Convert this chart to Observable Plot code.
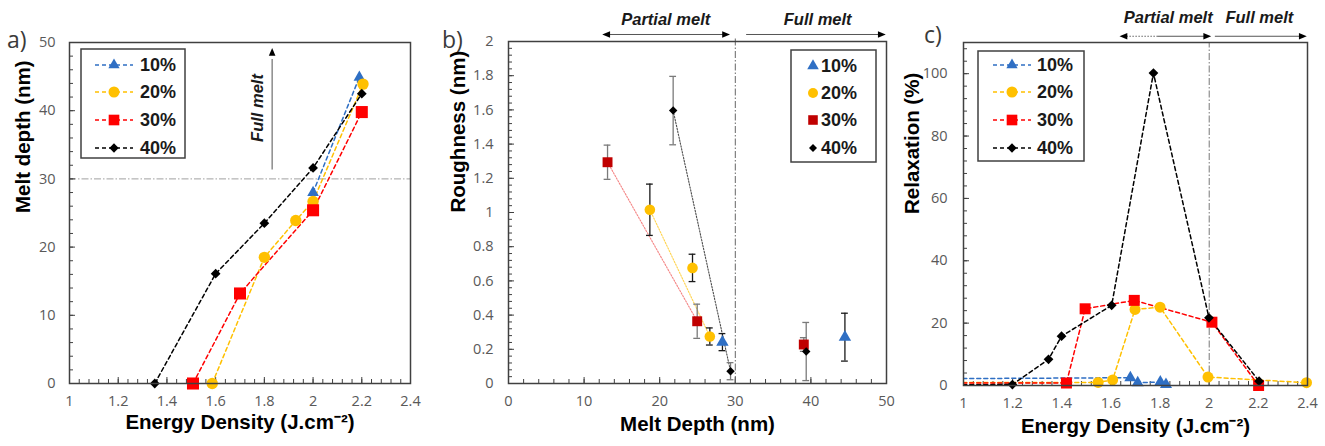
<!DOCTYPE html>
<html><head><meta charset="utf-8">
<script src="https://cdn.jsdelivr.net/npm/d3@7"></script>
<script src="https://cdn.jsdelivr.net/npm/@observablehq/plot@0.6"></script>
<style>
body{margin:0;background:#fff;}
#wrap{position:relative;width:1325px;height:446px;overflow:hidden;background:#fff;}
#wrap svg{position:absolute;top:0;overflow:visible;}
.tag{position:absolute;font-family:"Open Sans",sans-serif;font-size:23px;color:#3a3a3a;line-height:1;}
</style></head><body><div id="wrap"></div><script>
// ---------------- data ----------------
const seriesNames = ["10%", "20%", "30%", "40%"];

// a) Melt depth vs energy density
const aE10 = [2.0, 2.19];                      const aD10 = [28.0, 44.9];
const aE20 = [1.586, 1.8, 1.929, 2.0, 2.205];  const aD20 = [0, 18.5, 23.9, 26.7, 43.9];
const aE30 = [1.507, 1.7, 2.0, 2.2];           const aD30 = [0, 13.2, 25.4, 39.8];
const aE40 = [1.35, 1.6, 1.8, 2.0, 2.2];       const aD40 = [0, 16.1, 23.5, 31.6, 42.5];
const aXTicks = [1, 1.2, 1.4, 1.6, 1.8, 2, 2.2, 2.4];
const aYTicks = [0, 10, 20, 30, 40, 50];

// b) Roughness vs melt depth (with error bars)
const bDepth10 = [28.3, 44.5];          const bRough10 = [0.242, 0.271];        const bErr10 = [0.05, 0.14];
const bDepth20 = [18.7, 24.34, 26.63];  const bRough20 = [1.016, 0.676, 0.275]; const bErr20 = [0.15, 0.08, 0.05];
const bDepth30 = [13.1, 24.96, 39.06];  const bRough30 = [1.294, 0.364, 0.228]; const bErr30 = [0.1, 0.1, 0.04];
const bDepth40 = [21.78, 29.37, 39.38]; const bRough40 = [1.596, 0.072, 0.187]; const bErr40 = [0.2, 0.05, 0.17];
// dotted trend segments: indices of the points that are joined
const bTrend20 = [0, 2]; const bTrend30 = [0, 1]; const bTrend40 = [0, 1];
const bXTicks = [0, 10, 20, 30, 40, 50];
const bYTicks = [0, 0.2, 0.4, 0.6, 0.8, 1, 1.2, 1.4, 1.6, 1.8, 2];

// c) Relaxation vs energy density (first point of each series lies left of the axis)
const cE10 = [0, 1.679, 1.709, 1.801, 1.824];                    const cR10 = [1.8, 2.5, 0.9, 1.1, 0.3];
const cE20 = [0, 1.548, 1.607, 1.698, 1.8, 1.995, 2.396];       const cR20 = [1.0, 1.0, 1.8, 24.4, 25.1, 2.7, 0.9];
const cE30 = [0, 1.419, 1.495, 1.695, 2.011, 2.201];            const cR30 = [0.7, 0.8, 24.6, 27.3, 20.3, 0];
const cE40 = [0, 1.199, 1.346, 1.399, 1.603, 1.773, 1.999, 2.203]; const cR40 = [0, 0.3, 8.4, 15.8, 25.7, 100.2, 21.7, 1.4];
const cXTicks = [1, 1.2, 1.4, 1.6, 1.8, 2, 2.2, 2.4];
const cYTicks = [0, 20, 40, 60, 80, 100];

// ---------------- styling ----------------
const colA = ["#2F6FC4", "#FFC000", "#FF0000", "#000000"];
const colB = ["#2F6FC4", "#FFC000", "#C00000", "#000000"];
const errCol = ["#1a1a1a", "#1a1a1a", "#7a7a7a", "#7a7a7a"];
const syms = ["triangle", "circle", "square", "diamond2"];
const d3syms = [d3.symbolTriangle, d3.symbolCircle, d3.symbolSquare, d3.symbolDiamond2];
const rA = [4.3, 5.7, 6.8, 4.4];
const rB = [4.6, 5.3, 5.6, 3.8];
const rC = [4.5, 5.5, 6.2, 4.4];
const tickFont = "'Open Sans', sans-serif";
const titleFont = "'Liberation Sans', Arial, sans-serif";
const fmt = d => `${d}`;

const headRight = {draw(ctx, size){ const r = Math.sqrt(size/Math.PI); ctx.moveTo(0,0); ctx.lineTo(-2.6*r,-1.1*r); ctx.lineTo(-2.6*r,1.1*r); ctx.closePath(); }};
const headLeft  = {draw(ctx, size){ const r = Math.sqrt(size/Math.PI); ctx.moveTo(0,0); ctx.lineTo(2.6*r,-1.1*r); ctx.lineTo(2.6*r,1.1*r); ctx.closePath(); }};
const headUp    = {draw(ctx, size){ const r = Math.sqrt(size/Math.PI); ctx.moveTo(0,0); ctx.lineTo(-1.1*r,2.6*r); ctx.lineTo(1.1*r,2.6*r); ctx.closePath(); }};

function mkRows(series, xs, ys, errs) {
  return xs.map((x, i) => ({series, x, y: ys[i], err: errs ? errs[i] : 0}));
}
function tickMarks(xMinor, xMajor, yMinor, yMajor, innerW, innerH) {
  return [
    Plot.tickX(xMinor, {x: d => d, insetTop: innerH - 4, stroke: "#404040", strokeWidth: 1}),
    Plot.tickX(xMajor, {x: d => d, insetTop: innerH - 6, stroke: "#404040", strokeWidth: 1}),
    Plot.tickY(yMinor, {y: d => d, insetRight: innerW - 4, stroke: "#404040", strokeWidth: 1}),
    Plot.tickY(yMajor, {y: d => d, insetRight: innerW - 6, stroke: "#404040", strokeWidth: 1})
  ];
}
function axes(xT, yT, yPad) {
  return [
    Plot.axisX(xT, {tickSize: 0, tickPadding: 12, tickFormat: fmt, fontSize: 14.5, fontFamily: tickFont, fill: "#595959", label: null}),
    Plot.axisY(yT, {tickSize: 0, tickPadding: yPad, tickFormat: fmt, fontSize: 14.5, fontFamily: tickFont, fill: "#595959", label: null})
  ];
}
function titles(xTitle, yTitle, dyX, dxY) {
  return [
    Plot.text([xTitle], {text: d => d, frameAnchor: "bottom", dy: dyX, fontSize: 20.5, fontWeight: "bold", fontFamily: titleFont, fill: "#000"}),
    Plot.text([yTitle], {text: d => d, frameAnchor: "left", dx: dxY, rotate: -90, fontSize: 20.5, fontWeight: "bold", fontFamily: titleFont, fill: "#000"})
  ];
}
function addLegend(svg, box, rowY, o) {
  const g = d3.select(svg).append("g");
  g.append("rect").attr("x", box[0]).attr("y", box[1]).attr("width", box[2] - box[0]).attr("height", box[3] - box[1])
    .attr("fill", "white").attr("stroke", "#404040").attr("stroke-width", 1.5);
  seriesNames.forEach((name, i) => {
    const y = rowY[i];
    if (o.lineX) g.append("line").attr("x1", o.lineX[0]).attr("x2", o.lineX[1]).attr("y1", y).attr("y2", y)
      .attr("stroke", o.colors[i]).attr("stroke-width", 1.5).attr("stroke-dasharray", "4,3");
    g.append("path").attr("transform", `translate(${o.markerX},${y})`)
      .attr("d", d3.symbol(d3syms[i], Math.PI * o.r[i] * o.r[i])()).attr("fill", o.colors[i]);
    g.append("text").attr("x", o.textX).attr("y", y).attr("dy", "0.36em").text(name)
      .attr("text-anchor", "start")
      .attr("font-family", titleFont).attr("font-weight", "bold").attr("font-size", 18).attr("fill", "#1a1a1a");
  });
}

const wrap = document.getElementById("wrap");
const italicBold = {fontStyle: "italic", fontWeight: "bold", fontSize: 16.5, fontFamily: titleFont, fill: "#1a1a1a"};

// ---------------- panel a ----------------
{
  const W = 430, H = 446, mL = 69, mR = 20, mT = 42, mB = 63;
  const iw = W - mL - mR, ih = H - mT - mB;
  const sets = [mkRows("10%", aE10, aD10), mkRows("20%", aE20, aD20), mkRows("30%", aE30, aD30), mkRows("40%", aE40, aD40)];
  const marks = [
    Plot.ruleY([30], {x1: 1, x2: 2.4, stroke: "#a0a0a0", strokeWidth: 1, strokeDasharray: "7,2,1.5,2"}),
    ...tickMarks(d3.range(1, 2.401, 0.04), aXTicks, d3.range(0, 50.01, 2), aYTicks, iw, ih),
    Plot.ruleX([1.832], {y1: 31.3, y2: 47.5, stroke: "#7a7a7a", strokeWidth: 1.3}),
    Plot.dot([0], {x: 1.832, y: 49.2, symbol: headUp, r: 3, fill: "#000"}),
    Plot.text(["Full melt"], {text: d => d, x: 1.772, y: 40.4, rotate: -90, ...italicBold})
  ];
  sets.forEach((rows, i) => {
    marks.push(Plot.line(rows, {x: "x", y: "y", stroke: colA[i], strokeWidth: 1.5, strokeDasharray: "4,3"}));
  });
  sets.forEach((rows, i) => {
    marks.push(Plot.dot(rows, {x: "x", y: "y", symbol: syms[i], r: rA[i], fill: colA[i]}));
  });
  marks.push(Plot.frame({stroke: "#404040", strokeWidth: 1.5}), ...axes(aXTicks, aYTicks, 14),
    ...titles("Energy Density (J.cm\u207B\u00B2)", "Melt depth (nm)", 45, -46));
  const svg = Plot.plot({width: W, height: H, marginLeft: mL, marginRight: mR, marginTop: mT, marginBottom: mB,
    x: {domain: [1, 2.4]}, y: {domain: [0, 50]},
    style: {fontFamily: tickFont, fontSize: "14px", color: "#595959", background: "transparent", overflow: "visible"}, marks});
  svg.style.left = "0px";
  wrap.appendChild(svg);
  addLegend(svg, [81, 49, 185, 158], [65, 92, 120, 148], {lineX: [95, 133], markerX: 114, textX: 140, colors: colA, r: [4.2, 5.5, 6.0, 4.2]});
}

// ---------------- panel b ----------------
{
  const W = 465, H = 446, mL = 78, mR = 9, mT = 41, mB = 63, left = 430;
  const iw = W - mL - mR, ih = H - mT - mB;
  const sets = [mkRows("10%", bDepth10, bRough10, bErr10), mkRows("20%", bDepth20, bRough20, bErr20),
                mkRows("30%", bDepth30, bRough30, bErr30), mkRows("40%", bDepth40, bRough40, bErr40)];
  const trends = [null, bTrend20, bTrend30, bTrend40];
  const marks = [
    ...tickMarks(d3.range(0, 50.01, 2), bXTicks, d3.range(0, 2.001, 0.04), bYTicks, iw, ih),
    Plot.ruleX([30], {y1: 0, y2: 2.02, stroke: "#666", strokeWidth: 1, strokeDasharray: "7,2,1.5,2"}),
    // annotations above the frame
    Plot.text(["Partial melt"], {text: d => d, x: 20.8, y: 2.13, ...italicBold}),
    Plot.text(["Full melt"], {text: d => d, x: 40.9, y: 2.13, ...italicBold}),
    Plot.ruleY([2.041], {x1: 12.9, x2: 28.7, stroke: "#555", strokeWidth: 1}),
    Plot.dot([0], {x: 12.4, y: 2.041, symbol: headLeft, r: 3, fill: "#000"}),
    Plot.dot([0], {x: 29.3, y: 2.041, symbol: headRight, r: 3, fill: "#000"}),
    Plot.ruleY([2.041], {x1: 31.5, x2: 49.2, stroke: "#555", strokeWidth: 1}),
    Plot.dot([0], {x: 49.9, y: 2.041, symbol: headRight, r: 3, fill: "#000"})
  ];
  sets.forEach((rows, i) => {
    if (trends[i]) marks.push(Plot.line(trends[i].map(k => rows[k]), {x: "x", y: "y", stroke: colB[i] === "#C00000" ? "#F05050" : colB[i], strokeOpacity: 0.7, strokeWidth: 1.1, strokeDasharray: "1.5,1.5"}));
  });
  sets.forEach((rows, i) => {
    marks.push(
      Plot.ruleX(rows, {x: "x", y1: d => d.y - d.err, y2: d => d.y + d.err, stroke: errCol[i], strokeWidth: 1.3}),
      Plot.ruleY(rows, {y: d => d.y + d.err, x1: d => d.x - 0.45, x2: d => d.x + 0.45, stroke: errCol[i], strokeWidth: 1.3}),
      Plot.ruleY(rows, {y: d => d.y - d.err, x1: d => d.x - 0.45, x2: d => d.x + 0.45, stroke: errCol[i], strokeWidth: 1.3})
    );
  });
  sets.forEach((rows, i) => {
    marks.push(Plot.dot(rows, {x: "x", y: "y", symbol: syms[i], r: rB[i], fill: colB[i]}));
  });
  marks.push(Plot.frame({stroke: "#404040", strokeWidth: 1.5}), ...axes(bXTicks, bYTicks, 15),
    ...titles("Melt Depth (nm)", "Roughness (nm)", 47, -50));
  const svg = Plot.plot({width: W, height: H, marginLeft: mL, marginRight: mR, marginTop: mT, marginBottom: mB,
    x: {domain: [0, 50]}, y: {domain: [0, 2]},
    style: {fontFamily: tickFont, fontSize: "14px", color: "#595959", background: "transparent", overflow: "visible"}, marks});
  svg.style.left = left + "px";
  wrap.appendChild(svg);
  addLegend(svg, [791 - left, 50, 876 - left, 162], [66, 93, 120, 148], {markerX: 813 - left, textX: 821 - left, colors: colB, r: [4.3, 5.0, 5.4, 3.6]});
}

// ---------------- panel c ----------------
{
  const W = 430, H = 446, mL = 68, mR = 18, mT = 42, mB = 61, left = 895;
  const iw = W - mL - mR, ih = H - mT - mB;
  const sets = [mkRows("10%", cE10, cR10), mkRows("20%", cE20, cR20), mkRows("30%", cE30, cR30), mkRows("40%", cE40, cR40)];
  const marks = [
    ...tickMarks(d3.range(1, 2.401, 0.04), cXTicks, d3.range(0, 110.01, 4), cYTicks, iw, ih),
    Plot.ruleX([2], {y1: 0, y2: 110, stroke: "#777", strokeWidth: 1, strokeDasharray: "7,2,1.5,2"}),
    Plot.text(["Partial melt"], {text: d => d, x: 1.833, y: 118, ...italicBold}),
    Plot.text(["Full melt"], {text: d => d, x: 2.204, y: 118, ...italicBold}),
    Plot.ruleY([112], {x1: 1.665, x2: 1.79, stroke: "#666", strokeWidth: 1, strokeDasharray: "1.5,1.5"}),
    Plot.ruleY([112], {x1: 1.79, x2: 1.985, stroke: "#555", strokeWidth: 1}),
    Plot.dot([0], {x: 1.635, y: 112, symbol: headLeft, r: 3, fill: "#000"}),
    Plot.dot([0], {x: 2.008, y: 112, symbol: headRight, r: 3, fill: "#000"}),
    Plot.ruleY([112], {x1: 2.025, x2: 2.37, stroke: "#555", strokeWidth: 1}),
    Plot.dot([0], {x: 2.397, y: 112, symbol: headRight, r: 3, fill: "#000"})
  ];
  sets.forEach((rows, i) => {
    marks.push(Plot.line(rows, {x: "x", y: "y", stroke: colA[i], strokeWidth: 1.5, strokeDasharray: "4,3", clip: true}));
  });
  sets.forEach((rows, i) => {
    marks.push(Plot.dot(rows.filter(d => d.x >= 1), {x: "x", y: "y", symbol: syms[i], r: rC[i], fill: colA[i]}));
  });
  marks.push(Plot.frame({stroke: "#404040", strokeWidth: 1.5}), ...axes(cXTicks, cYTicks, 16),
    ...titles("Energy Density (J.cm\u207B\u00B2)", "Relaxation (%)", 47, -51));
  const svg = Plot.plot({width: W, height: H, marginLeft: mL, marginRight: mR, marginTop: mT, marginBottom: mB,
    x: {domain: [1, 2.4]}, y: {domain: [0, 110]},
    style: {fontFamily: tickFont, fontSize: "14px", color: "#595959", background: "transparent", overflow: "visible"}, marks});
  svg.style.left = left + "px";
  wrap.appendChild(svg);
  addLegend(svg, [978 - left, 51, 1084 - left, 161], [65, 92, 120, 148], {lineX: [993 - left, 1031 - left], markerX: 1012 - left, textX: 1037 - left, colors: colA, r: [4.2, 5.5, 6.0, 4.2]});
}

// panel tags
[["a)", 7, 28], ["b)", 442, 28], ["c)", 924, 23]].forEach(([t, x, y]) => {
  const d = document.createElement("div");
  d.className = "tag"; d.textContent = t; d.style.left = x + "px"; d.style.top = y + "px";
  wrap.appendChild(d);
});
</script></body></html>
